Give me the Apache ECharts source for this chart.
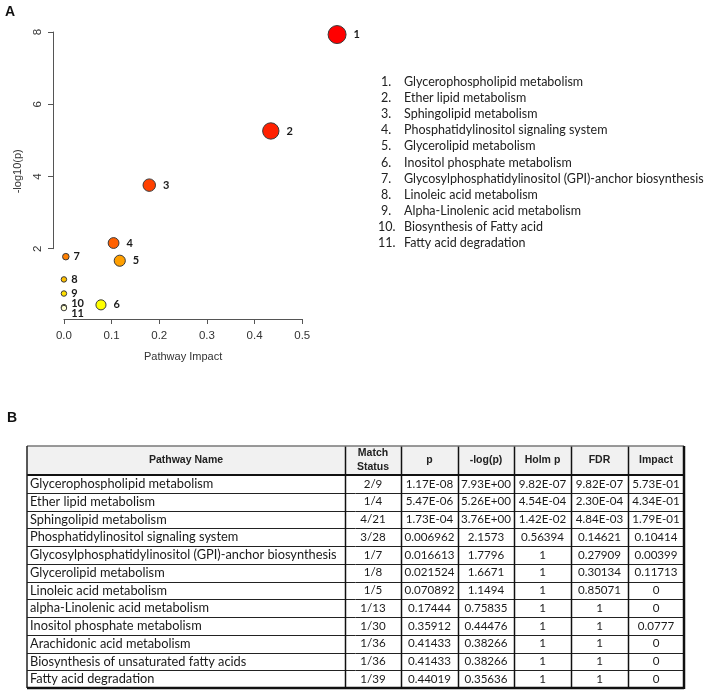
<!DOCTYPE html>
<html>
<head>
<meta charset="utf-8">
<script src="https://cdn.jsdelivr.net/npm/echarts@6/dist/echarts.min.js"></script>
<style>
  html, body { margin: 0; padding: 0; background: #fff; }
  #chart { width: 708px; height: 694px; }
</style>
</head>
<body>
<div id="chart"></div>
<script>
// ---------------- DATA ----------------
// Panel A: pathway impact (x) vs -log10(p) (y), numbered 1..11
const pathwayNames = [
  'Glycerophospholipid metabolism',
  'Ether lipid metabolism',
  'Sphingolipid metabolism',
  'Phosphatidylinositol signaling system',
  'Glycerolipid metabolism',
  'Inositol phosphate metabolism',
  'Glycosylphosphatidylinositol (GPI)-anchor biosynthesis',
  'Linoleic acid metabolism',
  'Alpha-Linolenic acid metabolism',
  'Biosynthesis of Fatty acid',
  'Fatty acid degradation'
];
const impact   = [0.573, 0.434, 0.179, 0.10414, 0.11713, 0.0777, 0.00399, 0, 0, 0, 0];
const negLogP  = [7.93, 5.26, 3.76, 2.1573, 1.6671, 0.44476, 1.7796, 1.1494, 0.75835, 0.38266, 0.35636];
const xTicks = [0, 0.1, 0.2, 0.3, 0.4, 0.5];
const yTicks = [2, 4, 6, 8];

// Panel B: table
const tableHeaders = ['Pathway Name', 'Match\nStatus', 'p', '-log(p)', 'Holm p', 'FDR', 'Impact'];
const tableNames = [
  'Glycerophospholipid metabolism',
  'Ether lipid metabolism',
  'Sphingolipid metabolism',
  'Phosphatidylinositol signaling system',
  'Glycosylphosphatidylinositol (GPI)-anchor biosynthesis',
  'Glycerolipid metabolism',
  'Linoleic acid metabolism',
  'alpha-Linolenic acid metabolism',
  'Inositol phosphate metabolism',
  'Arachidonic acid metabolism',
  'Biosynthesis of unsaturated fatty acids',
  'Fatty acid degradation'
];
const matchStatus = ['2/9','1/4','4/21','3/28','1/7','1/8','1/5','1/13','1/30','1/36','1/36','1/39'];
const pValues     = ['1.17E-08','5.47E-06','1.73E-04','0.006962','0.016613','0.021524','0.070892','0.17444','0.35912','0.41433','0.41433','0.44019'];
const negLogCol   = ['7.93E+00','5.26E+00','3.76E+00','2.1573','1.7796','1.6671','1.1494','0.75835','0.44476','0.38266','0.38266','0.35636'];
const holmP       = ['9.82E-07','4.54E-04','1.42E-02','0.56394','1','1','1','1','1','1','1','1'];
const fdrValues   = ['9.82E-07','2.30E-04','4.84E-03','0.14621','0.27909','0.30134','0.85071','1','1','1','1','1'];
const impactCol   = ['5.73E-01','4.34E-01','1.79E-01','0.10414','0.00399','0.11713','0','0','0.0777','0','0','0'];

// ---------------- STYLE / LAYOUT ----------------
const heatPalette = ['#FF0000','#FF2000','#FF4000','#FF6000','#FF8000','#FF9F00','#FFBF00','#FFDF00','#FFFF00','#FFFF80','#FFFFD5'];
const plot = { left: 53, right: 348, top: 23.6, bottom: 319 };
const axisColor = '#555';
const textColor = '#333';
const bodyFont = 'Lato, "Open Sans", sans-serif';
const headFont = '"Liberation Sans Narrow", "Liberation Sans", Arial, sans-serif';

// R-style 4% axis padding
const xr = [Math.min(...impact), Math.max(...impact)];
const yr = [Math.min(...negLogP), Math.max(...negLogP)];
const xMin = xr[0] - 0.04 * (xr[1] - xr[0]), xMax = xr[1] + 0.04 * (xr[1] - xr[0]);
const yMin = yr[0] - 0.04 * (yr[1] - yr[0]), yMax = yr[1] + 0.04 * (yr[1] - yr[0]);
const pw = plot.right - plot.left, ph = plot.bottom - plot.top;
const px = v => plot.left + (v - xMin) / (xMax - xMin) * pw;
const py = v => plot.bottom - (v - yMin) / (yMax - yMin) * ph;

// colour by rank of -log10(p)
const order = negLogP.map((v, i) => i).sort((a, b) => negLogP[b] - negLogP[a]);
const rankOf = []; order.forEach((idx, r) => rankOf[idx] = r);

const labelOffsets = { 9: [0, -4], 10: [0, 5] };
const scatterData = impact.map((x, i) => ({
  value: [x, negLogP[i]],
  symbolSize: 5.5 + 16.5 * Math.sqrt(x),
  itemStyle: { color: heatPalette[rankOf[i]] },
  label: {
    distance: x < 0.05 ? 4 : 7,
    offset: labelOffsets[i] || [0, 0]
  }
}));

// ---------------- GRAPHICS: legend list, panel letters, table ----------------
const graphics = [];
graphics.push({ type: 'text', x: 10, y: 12, style: { text: 'A', font: 'bold 14px "Liberation Sans", Arial', fill: '#111', align: 'center', verticalAlign: 'middle', textAlign: 'center', textVerticalAlign: 'middle' } });
graphics.push({ type: 'text', x: 12, y: 418, style: { text: 'B', font: 'bold 14px "Liberation Sans", Arial', fill: '#111', align: 'center', verticalAlign: 'middle', textAlign: 'center', textVerticalAlign: 'middle' } });

pathwayNames.forEach((name, i) => {
  const y = 82 + i * 16.1;
  graphics.push({ type: 'text', x: i < 9 ? 381 : 378, y, style: { text: (i + 1) + '.', font: '12.5px ' + bodyFont, fill: '#222', verticalAlign: 'middle', textVerticalAlign: 'middle' } });
  graphics.push({ type: 'text', x: 404, y, style: { text: name, font: '12.5px ' + bodyFont, fill: '#222', verticalAlign: 'middle', textVerticalAlign: 'middle' } });
});

// table
const colX = [27, 345, 401, 458, 514, 571, 628, 684];
const tTop = 446, hBottom = 475, tBottom = 688;
const rowH = (tBottom - hBottom) / tableNames.length;
graphics.push({ type: 'rect', shape: { x: colX[0], y: tTop, width: colX[7] - colX[0], height: hBottom - tTop }, style: { fill: '#f1f1f1' } });
const cols = [tableNames, matchStatus, pValues, negLogCol, holmP, fdrValues, impactCol];
tableHeaders.forEach((h, c) => {
  const cx = (colX[c] + colX[c + 1]) / 2;
  graphics.push({ type: 'text', x: cx, y: (tTop + hBottom) / 2, style: { text: h, font: 'bold 10.5px ' + headFont, fill: '#222', lineHeight: 14, align: 'center', verticalAlign: 'middle', textAlign: 'center', textVerticalAlign: 'middle' } });
});
for (let r = 0; r < tableNames.length; r++) {
  const cy = hBottom + rowH * (r + 0.5);
  cols.forEach((col, c) => {
    const left = c === 0;
    graphics.push({ type: 'text', x: left ? colX[0] + 3 : (colX[c] + colX[c + 1]) / 2, y: cy, style: { text: col[r], font: (left ? '12.8px ' : '11.6px ') + bodyFont, fill: '#1a1a1a', align: left ? 'left' : 'center', verticalAlign: 'middle', textAlign: left ? 'left' : 'center', textVerticalAlign: 'middle' } });
  });
  if (r > 0) {
    const ly = Math.round(hBottom + rowH * r) + 0.5;
    graphics.push({ type: 'line', shape: { x1: colX[0], y1: ly, x2: colX[7], y2: ly }, style: { stroke: '#222', lineWidth: 1 } });
  }
}
// header bottom line
graphics.push({ type: 'line', shape: { x1: colX[0], y1: hBottom, x2: colX[7], y2: hBottom }, style: { stroke: '#111', lineWidth: 2 } });
// vertical lines
for (let c = 1; c < 7; c++) {
  graphics.push({ type: 'line', shape: { x1: colX[c] + 0.5, y1: tTop, x2: colX[c] + 0.5, y2: tBottom }, style: { stroke: '#111', lineWidth: 1.5 } });
}
// outer border
graphics.push({ type: 'line', shape: { x1: colX[0], y1: tTop, x2: colX[7], y2: tTop }, style: { stroke: '#777', lineWidth: 1.5 } });
graphics.push({ type: 'line', shape: { x1: colX[0], y1: tTop, x2: colX[0], y2: tBottom }, style: { stroke: '#222', lineWidth: 1.5 } });
graphics.push({ type: 'line', shape: { x1: colX[7], y1: tTop, x2: colX[7], y2: tBottom + 1 }, style: { stroke: '#111', lineWidth: 2.5 } });
graphics.push({ type: 'line', shape: { x1: colX[0], y1: tBottom, x2: colX[7], y2: tBottom }, style: { stroke: '#111', lineWidth: 2.5 } });

// ---------------- CHART ----------------
const chart = echarts.init(document.getElementById('chart'), null, { renderer: 'canvas' });
const xAxisLeft = px(xTicks[0]), xAxisW = px(xTicks[xTicks.length - 1]) - xAxisLeft;
const yAxisTop = py(yTicks[yTicks.length - 1]), yAxisH = py(yTicks[0]) - yAxisTop;
const axisFont = '"Liberation Sans", Arial';

chart.setOption({
  animation: false,
  backgroundColor: '#fff',
  grid: [
    { left: plot.left, top: plot.top, width: pw, height: ph },
    { left: xAxisLeft, top: plot.bottom - 1, width: xAxisW, height: 1 },
    { left: plot.left, top: yAxisTop, width: 1, height: yAxisH }
  ],
  xAxis: [
    { gridIndex: 0, type: 'value', show: false, min: xMin, max: xMax },
    { gridIndex: 1, type: 'value', min: xTicks[0], max: xTicks[xTicks.length - 1], interval: 0.1, position: 'bottom', splitLine: { show: false },
      axisLine: { show: true, lineStyle: { color: axisColor, width: 1 } },
      axisTick: { show: true, length: 5, lineStyle: { color: axisColor } },
      axisLabel: { show: true, margin: 11, color: textColor, fontFamily: axisFont, fontSize: 11.5, formatter: v => v.toFixed(1) },
      name: 'Pathway Impact', nameLocation: 'middle', nameGap: 32, nameTextStyle: { fontFamily: axisFont, fontSize: 11, color: textColor } },
    { gridIndex: 2, type: 'value', show: false, min: 0, max: 1 }
  ],
  yAxis: [
    { gridIndex: 0, type: 'value', min: yMin, max: yMax, splitLine: { show: false }, axisLine: { show: false }, axisTick: { show: false }, axisLabel: { show: false },
      name: '-log10(p)', nameLocation: 'middle', nameGap: 30, nameRotate: 90, nameTextStyle: { fontFamily: axisFont, fontSize: 11, color: textColor } },
    { gridIndex: 1, type: 'value', show: false, min: 0, max: 1 },
    { gridIndex: 2, type: 'value', min: yTicks[0], max: yTicks[yTicks.length - 1], interval: 2, position: 'left', splitLine: { show: false },
      axisLine: { show: true, lineStyle: { color: axisColor, width: 1 } },
      axisTick: { show: true, length: 5, lineStyle: { color: axisColor } },
      axisLabel: { show: true, rotate: 90, margin: 9, color: textColor, fontFamily: axisFont, fontSize: 11.5 } }
  ],
  series: [{
    type: 'scatter',
    xAxisIndex: 0, yAxisIndex: 0,
    data: scatterData,
    itemStyle: { borderColor: '#3a3a3a', borderWidth: 1, opacity: 1 },
    label: { show: true, position: 'right', formatter: p => String(p.dataIndex + 1), fontFamily: bodyFont, fontWeight: 'bold', fontSize: 11, color: '#1a1a1a' },
    emphasis: { disabled: true }
  }],
  graphic: { elements: graphics }
});
</script>
</body>
</html>
